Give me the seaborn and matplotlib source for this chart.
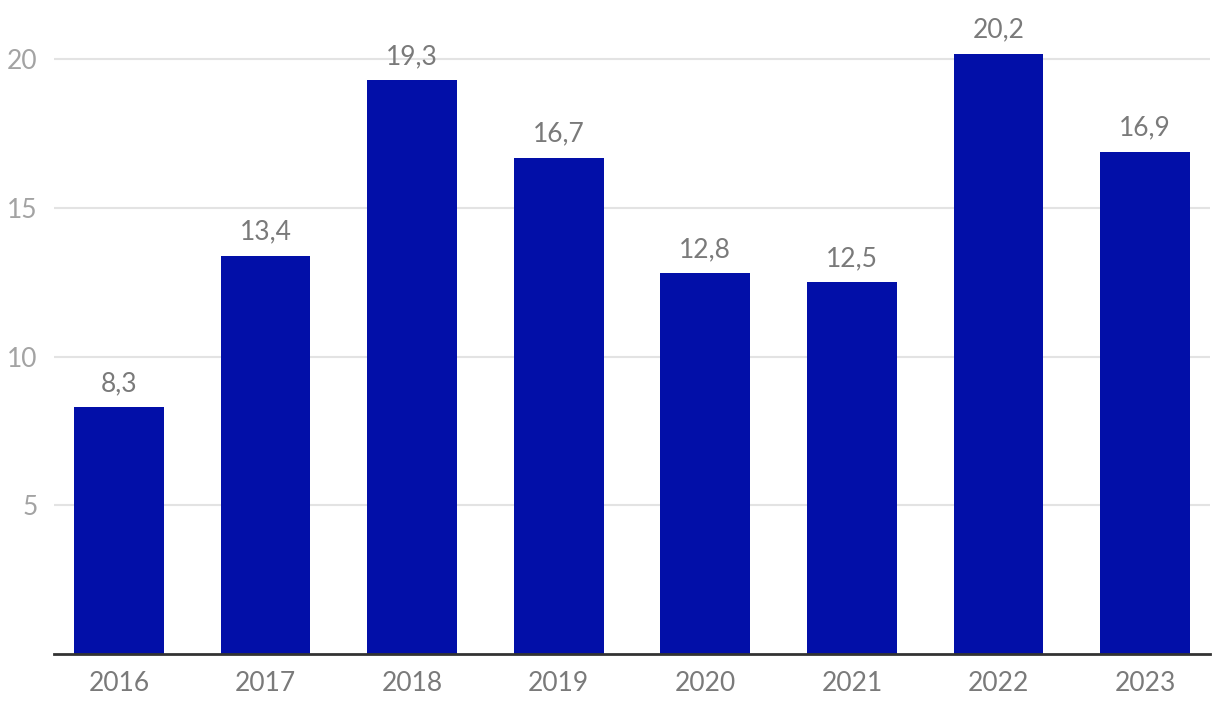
import matplotlib
matplotlib.use("Agg")
import matplotlib.pyplot as plt
import seaborn as sns
import pandas as pd

# Data
years = ["2016", "2017", "2018", "2019", "2020", "2021", "2022", "2023"]
values = [8.3, 13.4, 19.3, 16.7, 12.8, 12.5, 20.2, 16.9]
y_ticks = [5, 10, 15, 20]

BAR_COLOR = "#020FA8"

sns.set_theme(style="white")
plt.rcParams["font.family"] = ["Lato", "DejaVu Sans"]

df = pd.DataFrame({"year": years, "value": values})

fig = plt.figure(figsize=(12.2, 7.16), dpi=100)
ax = fig.add_axes([54 / 1220, (716 - 654) / 716, (1210 - 54) / 1220, 654 / 716])

sns.barplot(data=df, x="year", y="value", color=BAR_COLOR, saturation=1,
            width=0.613, linewidth=0, ax=ax, zorder=3)

ax.set_xlim(-0.443, 7.443)
ax.set_ylim(0, 22)
ax.set_yticks(y_ticks)
ax.yaxis.grid(True, color="#e3e3e3", linewidth=1.5, zorder=0)
ax.set_axisbelow(True)

for s in ["top", "right", "left"]:
    ax.spines[s].set_visible(False)
ax.spines["bottom"].set_color("#333333")
ax.spines["bottom"].set_linewidth(2)
ax.spines["bottom"].set_zorder(4)

ax.tick_params(axis="x", length=0, pad=12, labelsize=19, labelcolor="#7a7a7a")
ax.tick_params(axis="y", length=0, pad=12, labelsize=19, labelcolor="#a3a3a3")
ax.set_xlabel("")
ax.set_ylabel("")

for i, v in enumerate(values):
    ax.annotate(f"{v:.1f}".replace(".", ","), (i, v), xytext=(0, 8),
                textcoords="offset points", ha="center", va="bottom",
                fontsize=19, color="#7a7a7a")

fig.savefig("out.png", dpi=100)
